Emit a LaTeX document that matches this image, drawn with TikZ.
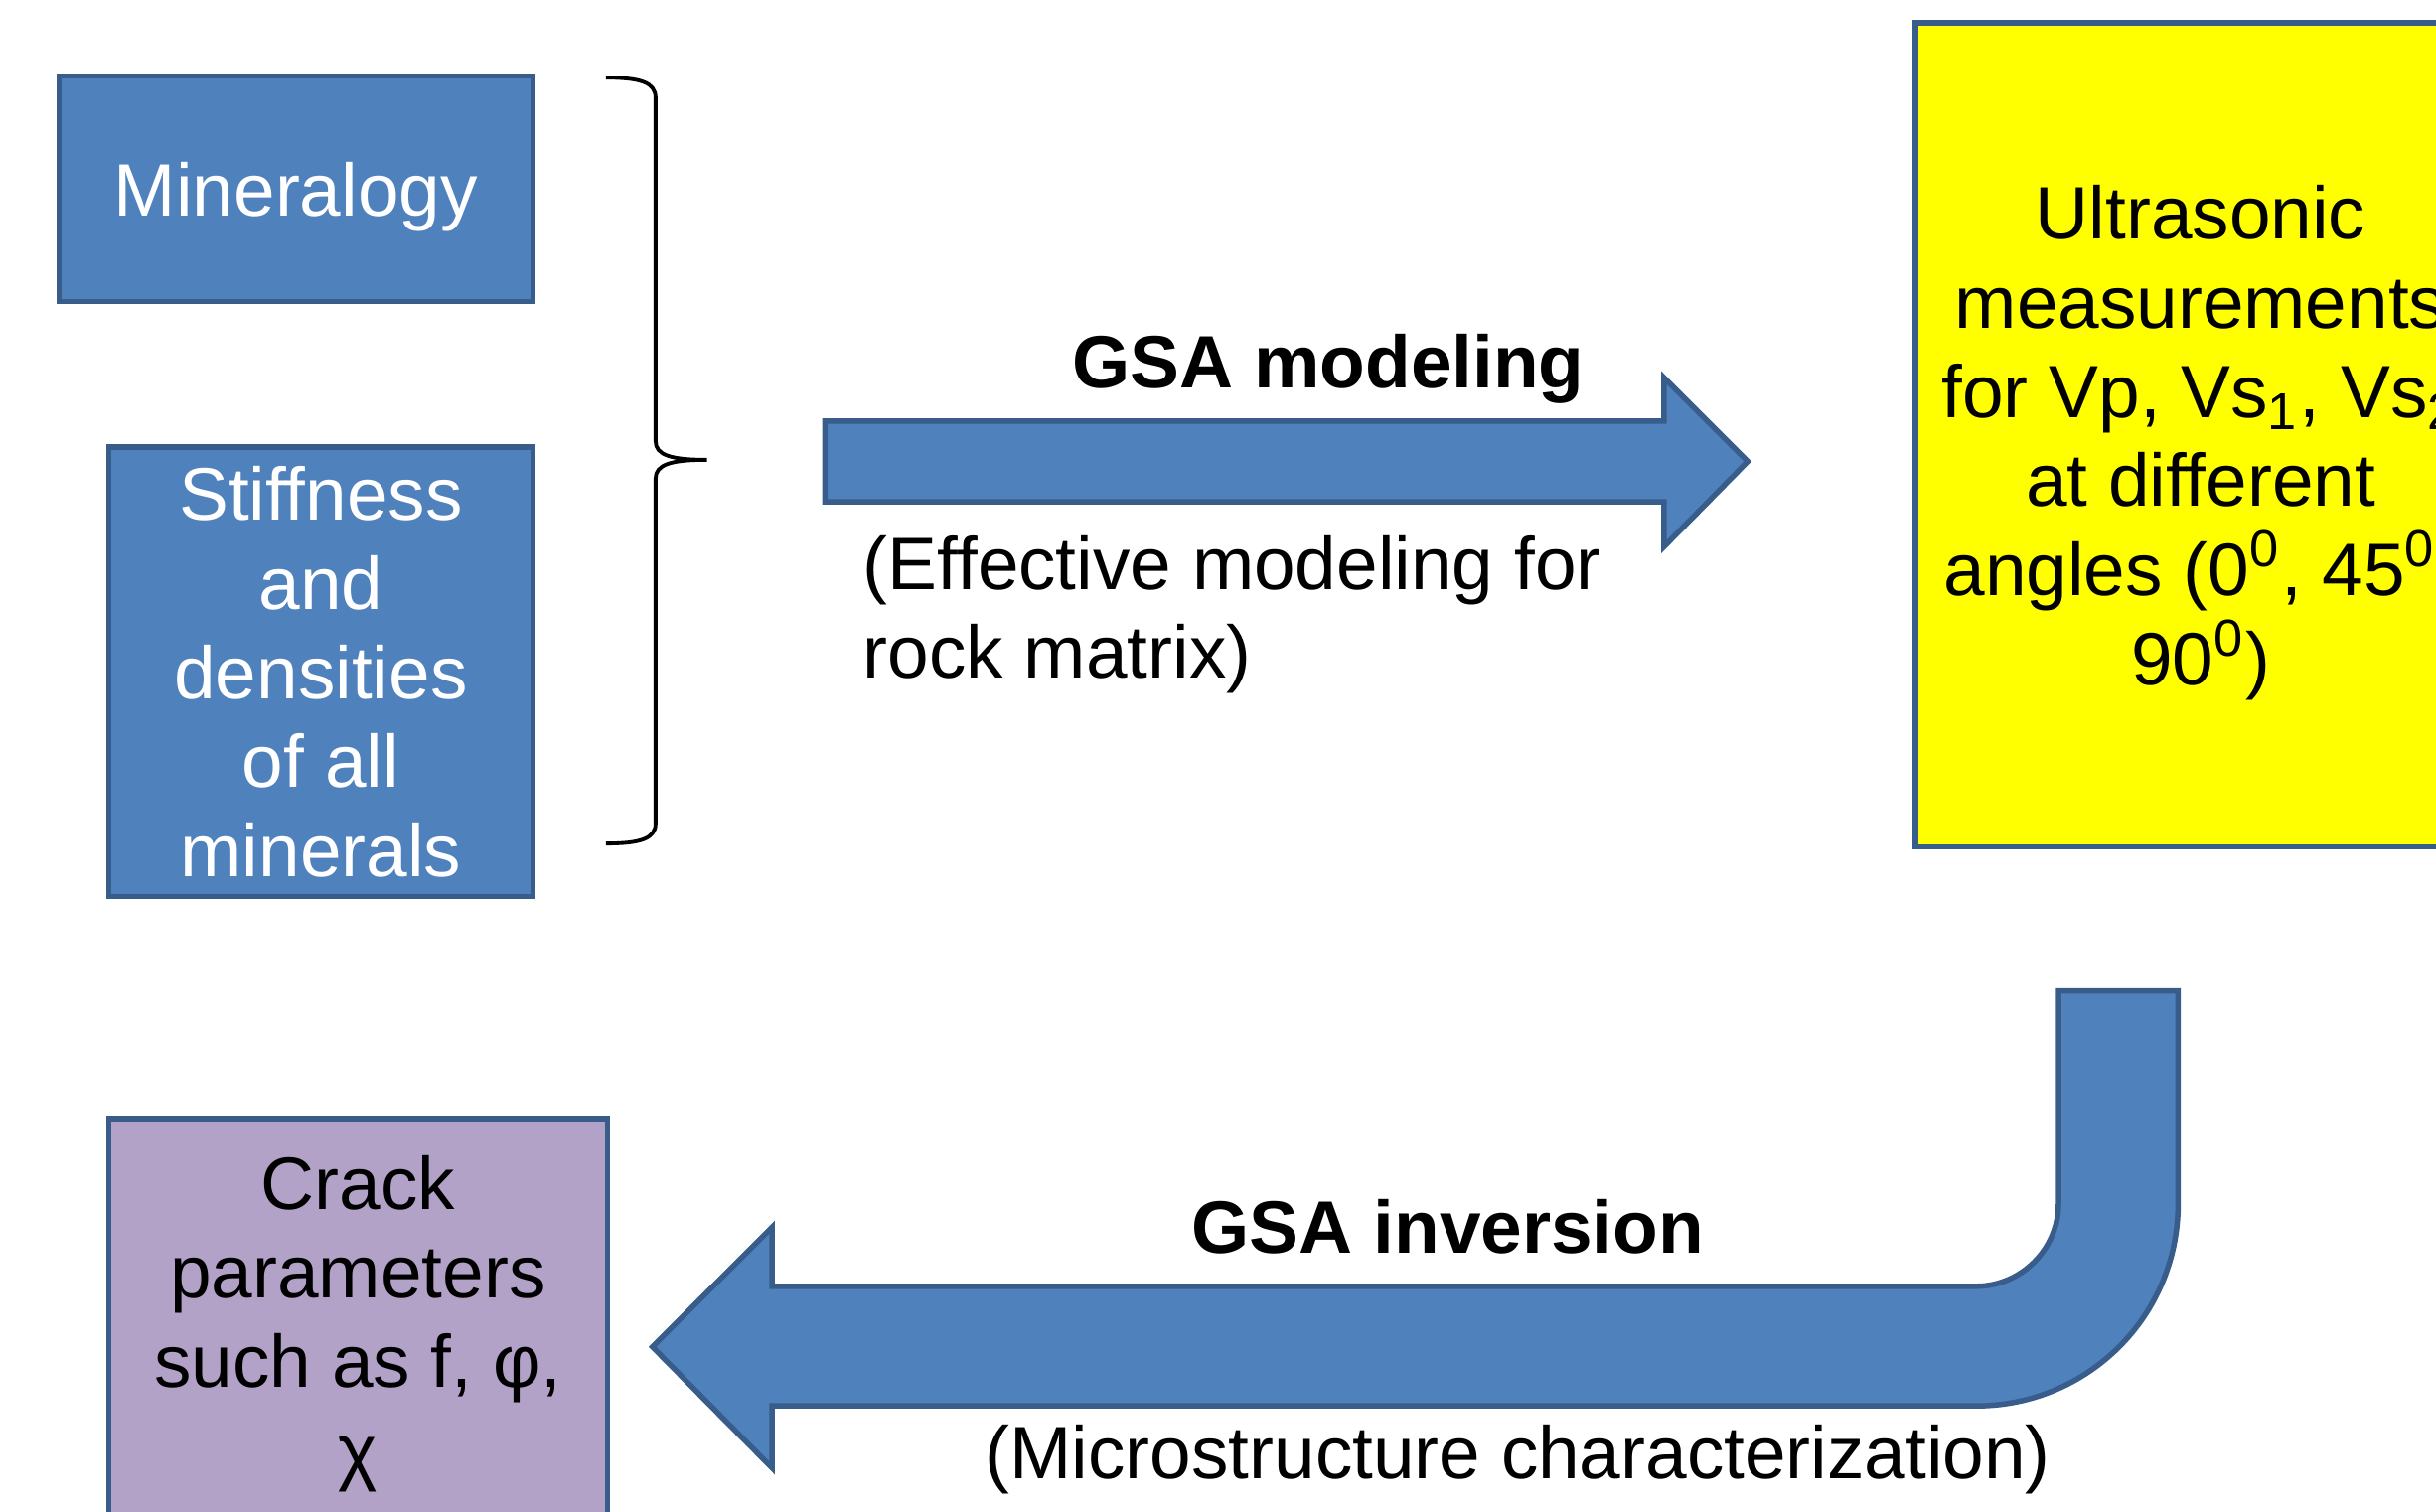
\documentclass[tikz,border=0pt]{standalone}
\usepackage{fontspec}
\setmainfont{Liberation Sans}
\definecolor{boxblue}{HTML}{4F81BD}
\definecolor{edgeblue}{HTML}{385D8A}
\definecolor{boxyellow}{HTML}{FFFF00}
\definecolor{boxlilac}{HTML}{B3A2C7}
\tikzset{
  txt/.style={font=\fontsize{13.6}{16.3}\selectfont, inner sep=0pt},
  box/.style={txt, draw=edgeblue, line width=1pt, align=center},
  blockarrow/.style={fill=boxblue, draw=edgeblue, line width=1pt, line join=miter}
}
\begin{document}
\begin{tikzpicture}[x=0.01cm, y=-0.01cm]
            \useasboundingbox (0,0) rectangle (1568,973);

            % Eingangsdaten
            \node[box, fill=boxblue, text=white, text depth=0pt, minimum width=3.05cm, minimum height=1.45cm] (mineral) at (190.5,121.5) {Mineralogy};
            \node[box, fill=boxblue, text=white, minimum width=2.73cm, minimum height=2.89cm] (stiff) at (206.5,432.5) {Stiffness\\and\\densities\\of all\\minerals};

            % Messung
            \node[box, fill=boxyellow, text depth=0pt, minimum width=3.67cm, minimum height=5.30cm] (ultra) at (1416.5,280) {Ultrasonic\\measurements\\for Vp, Vs\textsubscript{1}, Vs\textsubscript{2}\\at different\\angles (0\textsuperscript{0}, 45\textsuperscript{0},\\90\textsuperscript{0})};

            % Ergebnis
            \node[box, fill=boxlilac, minimum width=3.21cm, minimum height=2.64cm] (crack) at (230.5,852) {Crack\\parameters\\such as f, φ,\\χ};

            % Klammer
            \coordinate (btop) at (390,50);
            \coordinate (btip) at (455,296);
            \coordinate (bbot) at (390,543);
            \draw[line width=0.7pt] (btop) .. controls (412,50) and (422,53) .. (422,63) -- (422,284)
                .. controls (422,293) and (432,296) .. (btip)
                .. controls (432,296) and (422,299) .. (422,308) -- (422,530)
                .. controls (422,540) and (412,543) .. (bbot);

            % Pfeil Modellierung
            \draw[blockarrow] (531,271) -- (1071,271) -- (1071,243) -- (1125,297) -- (1071,352) -- (1071,323) -- (531,323) -- cycle;
            \node[txt, font=\fontsize{13.6}{16.3}\selectfont\bfseries, anchor=base] (gsamod) at (855,250) {GSA modeling};
            \node[txt, anchor=north west, align=left] (effmod) at (555,344) {(Effective modeling for\\rock matrix)};

            % Pfeil Inversion
            \draw[blockarrow] (1325,638) -- (1402,638) -- (1402,775)
                .. controls (1402,847) and (1344,905) .. (1272,905)
                -- (497,905) -- (497,945) -- (420,867) -- (497,790) -- (497,828) -- (1272,828)
                .. controls (1301,828) and (1325,804) .. (1325,775) -- cycle;
            \node[txt, font=\fontsize{13.6}{16.3}\selectfont\bfseries, anchor=base] (gsainv) at (932,807) {GSA inversion};
            \node[txt, anchor=base] (micro) at (977,952) {(Microstructure characterization)};
\end{tikzpicture}
\end{document}
